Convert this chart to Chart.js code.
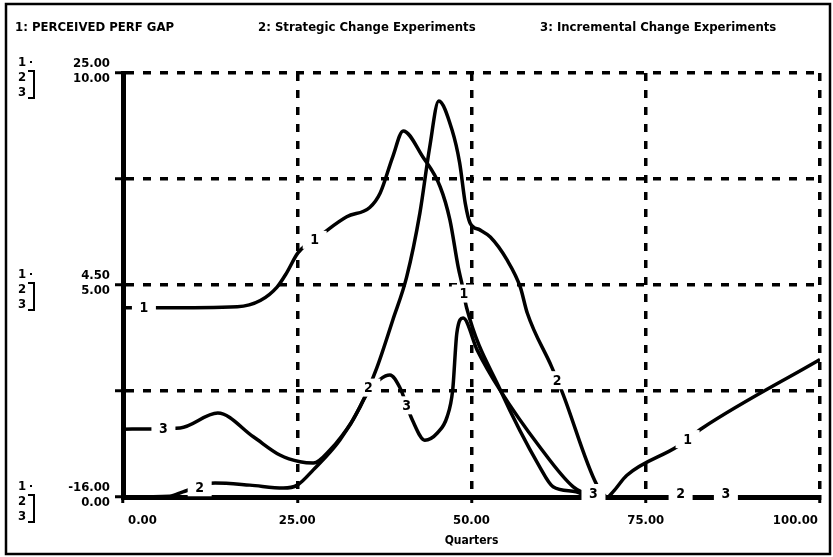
<!DOCTYPE html>
<html>
<head>
<meta charset="utf-8">
<script src="https://cdn.jsdelivr.net/npm/chart.js@4.4.1/dist/chart.umd.min.js"></script>
<style>
  html, body { margin: 0; padding: 0; background: #fff; }
  #wrap { position: relative; width: 833px; height: 557px; }
</style>
</head>
<body>
<div id="wrap"><canvas id="chart" width="833" height="557"></canvas></div>
<script>
// quarters / values
const gapQuarters = [0, 5, 16.4, 19.7, 22.1, 23.5, 25.1, 28.7, 32.1, 35.4, 36.9, 38.7, 40.2, 43, 45.5, 46.9, 48.1, 48.6, 49.3, 54.1, 59.8, 61.7, 65, 67, 69.5, 70.3, 72.3, 79.6, 83.2, 100];
const gapValues = [2.3, 2.3, 2.4, 3.0, 4.3, 5.7, 7.6, 9.5, 11.1, 12.0, 13.4, 16.9, 19.4, 16.9, 14.0, 10.8, 6.2, 4.7, 2.3, -5.6, -13.1, -15.0, -15.5, -16, -16, -15.5, -13.9, -11.1, -9.3, -2.7];

const strategicQuarters = [0, 6.7, 8.6, 13.2, 18.2, 23, 25, 27.3, 31.1, 34, 36.4, 38.7, 40.7, 42.6, 44, 45.3, 47.2, 48.3, 49.1, 49.8, 51.2, 52.7, 55.1, 57, 58, 61.5, 63, 68, 69.6, 100];
const strategicValues = [0, 0.02, 0.12, 0.33, 0.28, 0.21, 0.28, 0.64, 1.34, 2.12, 3.04, 4.17, 5.19, 6.7, 8.25, 9.34, 8.66, 7.88, 6.93, 6.46, 6.3, 6.13, 5.59, 4.95, 4.34, 3.07, 2.48, 0.28, 0, 0];

const incrementalQuarters = [0, 8.2, 13.6, 18.7, 22.5, 25.4, 27.3, 29.7, 33, 35.2, 38.3, 39.7, 41.5, 43.3, 45.1, 46.5, 47.3, 47.9, 48.8, 50.8, 54.1, 59.8, 64.6, 67, 69, 100];
const incrementalValues = [1.6, 1.63, 1.98, 1.42, 0.99, 0.83, 0.8, 1.11, 1.82, 2.48, 2.88, 2.59, 1.82, 1.34, 1.51, 1.89, 2.52, 3.87, 4.22, 3.47, 2.52, 1.18, 0.24, 0.05, 0, 0];

// where the series numbers sit on each curve
const gapMarks = [3, 27.5, 48.9, 81];
const strategicMarks = [11, 35.2, 62.3, 80];
const incrementalMarks = [5.8, 40.7, 67.5, 86.5];

const seriesTitles = ['1: PERCEIVED PERF GAP', '2: Strategic Change Experiments', '3: Incremental Change Experiments'];
const gapTicks = [25, 4.5, -16];
const gapTickLabels = ['25.00', '4.50', '-16.00'];
const expTicks = [10, 5, 0];
const expTickLabels = ['10.00', '5.00', '0.00'];
const xTicks = [0, 25, 50, 75, 100];
const xTickLabels = ['0.00', '25.00', '50.00', '75.00', '100.00'];
const xTitle = 'Quarters';

const FONT = '"Liberation Sans Narrow", "DejaVu Sans Condensed", "Liberation Sans", sans-serif';

const toPoints = (xs, ys) => xs.map((x, i) => ({ x: x, y: ys[i] }));

function valueAt(xs, ys, q) {
  for (let i = 1; i < xs.length; i++) {
    if (q <= xs[i]) {
      const f = (q - xs[i - 1]) / (xs[i] - xs[i - 1]);
      return ys[i - 1] + f * (ys[i] - ys[i - 1]);
    }
  }
  return ys[ys.length - 1];
}

const lineStyle = {
  borderColor: '#000',
  borderWidth: 3.5,
  pointRadius: 0,
  fill: false,
  cubicInterpolationMode: 'monotone',
};

// white page + outer frame
const framePlugin = {
  id: 'frame',
  beforeDraw(chart) {
    const ctx = chart.ctx;
    ctx.save();
    ctx.fillStyle = '#fff';
    ctx.fillRect(0, 0, chart.width, chart.height);
    ctx.strokeStyle = '#000';
    ctx.lineWidth = 2.5;
    ctx.strokeRect(6, 4, chart.width - 9, chart.height - 7);
    ctx.restore();
  },
};

// numbers printed on the curves, STELLA style
const markPlugin = {
  id: 'marks',
  afterDatasetsDraw(chart) {
    const ctx = chart.ctx;
    const xs = chart.scales.x;
    const sets = [
      [gapQuarters, gapValues, gapMarks, chart.scales.y1, '1'],
      [strategicQuarters, strategicValues, strategicMarks, chart.scales.y2, '2'],
      [incrementalQuarters, incrementalValues, incrementalMarks, chart.scales.y2, '3'],
    ];
    ctx.save();
    ctx.font = 'bold 14px ' + FONT;
    ctx.textAlign = 'center';
    ctx.textBaseline = 'middle';
    sets.forEach(([qs, vs, marks, ys, txt]) => {
      marks.forEach(q => {
        const px = xs.getPixelForValue(q);
        const py = Math.min(ys.getPixelForValue(valueAt(qs, vs, q)), ys.bottom - 4);
        ctx.fillStyle = '#fff';
        ctx.fillRect(px - 12, py - 9, 24, 18);
        ctx.fillStyle = '#000';
        ctx.fillText(txt, px, py + 1);
      });
    });
    ctx.restore();
  },
};

// titles, stacked axis labels, x labels
const textPlugin = {
  id: 'texts',
  afterDraw(chart) {
    const ctx = chart.ctx;
    const xs = chart.scales.x;
    const y1 = chart.scales.y1;
    const y2 = chart.scales.y2;
    ctx.save();
    ctx.fillStyle = '#000';
    ctx.textBaseline = 'middle';

    ctx.font = 'bold 13px ' + FONT;
    ctx.textAlign = 'left';
    const titleX = [15, 258, 540];
    seriesTitles.forEach((t, i) => ctx.fillText(t, titleX[i], 28));

    gapTicks.forEach((v, i) => {
      const py = y1.getPixelForValue(v);
      ctx.textAlign = 'right';
      ctx.fillText(gapTickLabels[i], 110, py - 9);
      ctx.fillText(expTickLabels[i], 110, y2.getPixelForValue(expTicks[i]) + 6);
      // 1 / 2 / 3 key with bracket
      ctx.textAlign = 'left';
      ctx.fillText('1', 18, py - 10);
      ctx.fillText('2', 18, py + 5);
      ctx.fillText('3', 18, py + 20);
      ctx.fillRect(30, py - 12, 2, 2);
      ctx.lineWidth = 2;
      ctx.strokeStyle = '#000';
      ctx.beginPath();
      ctx.moveTo(28, py - 2);
      ctx.lineTo(34, py - 2);
      ctx.lineTo(34, py + 25);
      ctx.lineTo(28, py + 25);
      ctx.stroke();
    });

    xTicks.forEach((v, i) => {
      let px = xs.getPixelForValue(v);
      if (i === 0) { ctx.textAlign = 'left'; px += 5; }
      else if (i === xTicks.length - 1) { ctx.textAlign = 'right'; px -= 2; }
      else ctx.textAlign = 'center';
      ctx.fillText(xTickLabels[i], px, 521);
    });
    ctx.textAlign = 'center';
    ctx.font = 'bold 12px ' + FONT;
    ctx.fillText(xTitle, (xs.left + xs.right) / 2, 541);
    ctx.restore();
  },
};

const gridColor = edge => ctx => (ctx.tick && ctx.tick.value === edge ? 'rgba(0,0,0,0)' : '#000');

new Chart(document.getElementById('chart').getContext('2d'), {
  type: 'line',
  data: {
    datasets: [
      { ...lineStyle, label: seriesTitles[0], data: toPoints(gapQuarters, gapValues), yAxisID: 'y1' },
      { ...lineStyle, label: seriesTitles[1], data: toPoints(strategicQuarters, strategicValues), yAxisID: 'y2' },
      { ...lineStyle, label: seriesTitles[2], data: toPoints(incrementalQuarters, incrementalValues), yAxisID: 'y2' },
    ],
  },
  options: {
    responsive: false,
    animation: false,
    layout: { padding: { left: 113, top: 73, right: 13, bottom: 50 } },
    plugins: { legend: { display: false }, tooltip: { enabled: false } },
    scales: {
      x: {
        type: 'linear',
        min: 0,
        max: 100,
        afterBuildTicks: s => { s.ticks = xTicks.map(v => ({ value: v })); },
        afterFit: s => { s.height = 10; },
        ticks: { display: false },
        grid: { color: gridColor(0), lineWidth: 3.5, tickLength: 6, tickColor: '#000', tickWidth: 3 },
        border: { display: true, color: '#000', width: 5, dash: [8, 9] },
      },
      y1: {
        type: 'linear',
        position: 'left',
        min: -16,
        max: 25,
        afterBuildTicks: s => { s.ticks = [-16, -5.75, 4.5, 14.75, 25].map(v => ({ value: v })); },
        afterFit: s => { s.width = 10; },
        ticks: { display: false },
        grid: { color: gridColor(-16), lineWidth: 3.5, tickLength: 8, tickColor: '#000', tickWidth: 3 },
        border: { display: true, color: '#000', width: 5, dash: [8, 9] },
      },
      y2: {
        type: 'linear',
        display: false,
        min: 0,
        max: 10,
      },
    },
  },
  plugins: [framePlugin, markPlugin, textPlugin],
});
</script>
</body>
</html>
